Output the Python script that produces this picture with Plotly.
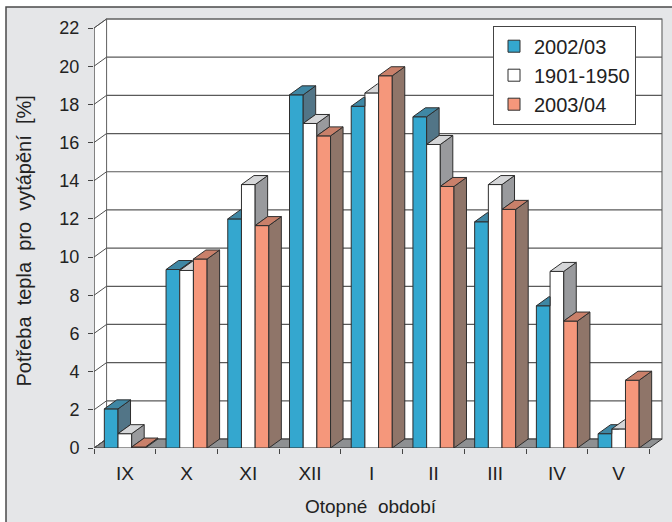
import plotly.graph_objects as go

# Heating-season months and each season's share of heating demand [%]
months = ["IX", "X", "XI", "XII", "I", "II", "III", "IV", "V"]
season_0203 = [2.05, 9.35, 12.0, 18.5, 17.9, 17.35, 11.85, 7.45, 0.75]
normal_1901_1950 = [0.75, 9.3, 13.8, 17.0, 18.6, 15.9, 13.8, 9.25, 1.0]
season_0304 = [0.05, 9.9, 11.65, 16.35, 19.5, 13.7, 12.5, 6.65, 3.55]
series_names = ["2002/03", "1901-1950", "2003/04"]
y_tick_values = list(range(0, 23, 2))

series = [season_0203, normal_1901_1950, season_0304]

# Face colours of the pseudo-3D columns: front, top, side
front_colors = ["#34a7cf", "#ffffff", "#f5977b"]
top_colors = ["#3f87a4", "#d5d6d8", "#c9806a"]
side_colors = ["#527587", "#999a9d", "#8f7569"]
edge = "#2e2e2e"

FONT = "Liberation Sans, Arial, sans-serif"
BARGAP = 0.335
BW = (1 - BARGAP) / 3          # width of one column in category units
DX = 0.2025                    # depth offset along x (category units)
DY = 0.4714                    # depth offset along y (value units)
Y_TOP = 22                     # top of the value axis
n = len(months)

fig = go.Figure()

# Front faces as grouped bars
for k, vals in enumerate(series):
    fig.add_trace(go.Bar(
        x=list(range(n)), y=vals, name=series_names[k],
        legendgroup=series_names[k],
        marker=dict(color=front_colors[k], line=dict(color=edge, width=1)),
        hoverinfo="skip",
    ))

# Side and top faces, painted left to right so nearer columns cover the
# hidden parts of their neighbours
for k, vals in enumerate(series):
    sx, sy, tx, ty = [], [], [], []
    for i in range(n):
        h = vals[i]
        hn = series[k + 1][i] if k < 2 else 0.0
        xl = i - 1.5 * BW + k * BW
        xr = xl + BW
        if h > hn:
            sx += [xr, xr, xr + DX, xr + DX, xr, None]
            sy += [hn, h, h + DY, hn + DY, hn, None]
        if hn <= h:
            px = [xl, xr, xr + DX, xl + DX, xl]
            py = [h, h, h + DY, h + DY, h]
        elif hn >= h + DY:
            px = [xl, xr, xr, xl + DX, xl]
            py = [h, h, h + DY, h + DY, h]
        else:
            cut = xr + (hn - h) / DY * DX
            px = [xl, xr, xr, cut, xr + DX, xl + DX, xl]
            py = [h, h, hn, hn, h + DY, h + DY, h]
        tx += px + [None]
        ty += py + [None]
    fig.add_trace(go.Scatter(
        x=sx, y=sy, mode="lines", fill="toself", fillcolor=side_colors[k],
        line=dict(color=edge, width=1), showlegend=False, hoverinfo="skip"))
    fig.add_trace(go.Scatter(
        x=tx, y=ty, mode="lines", fill="toself", fillcolor=top_colors[k],
        line=dict(color=edge, width=1), showlegend=False, hoverinfo="skip"))

# Walls, floor and gridlines of the 3D box
L, R = -0.5, n - 0.5
shapes = [
    dict(type="rect", xref="paper", yref="paper", layer="below",
         x0=(6 - 94) / 570, x1=1.2, y0=-0.4, y1=(448 - 7) / 431,
         fillcolor="#e5e6e8", line=dict(color="#4a4a4a", width=1.5)),
    dict(type="rect", xref="x", yref="y", layer="below",
         x0=L + DX, x1=R + DX, y0=DY, y1=Y_TOP + DY,
         fillcolor="white", line=dict(color="#6e6e6e", width=1.2)),
    dict(type="path", xref="x", yref="y", layer="below",
         path=f"M{L},0 L{L},{Y_TOP} L{L + DX},{Y_TOP + DY} L{L + DX},{DY} Z",
         fillcolor="white", line=dict(color="#6e6e6e", width=1)),
    dict(type="path", xref="x", yref="y", layer="below",
         path=f"M{L},0 L{R},0 L{R + DX},{DY} L{L + DX},{DY} Z",
         fillcolor="#8e9092", line=dict(color=edge, width=1)),
]
for v in y_tick_values:
    shapes.append(dict(type="line", xref="x", yref="y", layer="below",
                       x0=L, y0=v, x1=L + DX, y1=v + DY,
                       line=dict(color="#4f4f4f", width=1)))
    if v > 0:
        shapes.append(dict(type="line", xref="x", yref="y", layer="below",
                           x0=L + DX, y0=v + DY, x1=R + DX, y1=v + DY,
                           line=dict(color="#5a5a5a", width=1.2)))
shapes.append(dict(type="line", xref="x", yref="y", layer="below",
                   x0=L, y0=0, x1=L, y1=Y_TOP,
                   line=dict(color="#4f4f4f", width=1)))

fig.update_layout(
    width=672, height=522,
    margin=dict(l=94, r=8, t=17, b=74),
    paper_bgcolor="white",
    plot_bgcolor="rgba(0,0,0,0)",
    barmode="group", bargap=BARGAP, bargroupgap=0,
    hovermode=False,
    shapes=shapes,
    font=dict(family=FONT, color="#222222"),
    xaxis=dict(
        range=[L, 8.735], tickmode="array", tickvals=list(range(n)),
        ticktext=months, ticks="", showgrid=False, zeroline=False,
        showline=False, tickfont=dict(size=19, family=FONT, color="#222"),
        ticklabelstandoff=12,
        minor=dict(tickmode="linear", tick0=L, dtick=1, ticks="outside",
                   ticklen=5, tickcolor="#444", showgrid=False),
    ),
    yaxis=dict(
        range=[0, 22.577], tickmode="array", tickvals=y_tick_values,
        ticks="outside", ticklen=5, tickcolor="#444", showgrid=False,
        zeroline=False, showline=False, ticklabelstandoff=5,
        tickfont=dict(size=18, family=FONT, color="#222"),
    ),
    legend=dict(
        x=(493 - 94) / 570, y=(448 - 25.7) / 431, xanchor="left", yanchor="top",
        bgcolor="white", bordercolor="#444", borderwidth=1,
        font=dict(size=20, family=FONT, color="#222"),
        traceorder="grouped", tracegroupgap=0,
    ),
    annotations=[
        dict(text="Potřeba  tepla  pro  vytápění  [%]", xref="paper", yref="paper",
             x=(23 - 94) / 570, y=(448 - 241.5) / 431, textangle=-90,
             xanchor="center", yanchor="middle",
             showarrow=False, font=dict(size=20, family=FONT, color="#222")),
        dict(text="Otopné  období", xref="paper", yref="paper",
             x=(371 - 94) / 570, y=(448 - 506) / 431,
             xanchor="center", yanchor="middle",
             showarrow=False, font=dict(size=19, family=FONT, color="#222")),
    ],
)

fig.write_html("out.html")
